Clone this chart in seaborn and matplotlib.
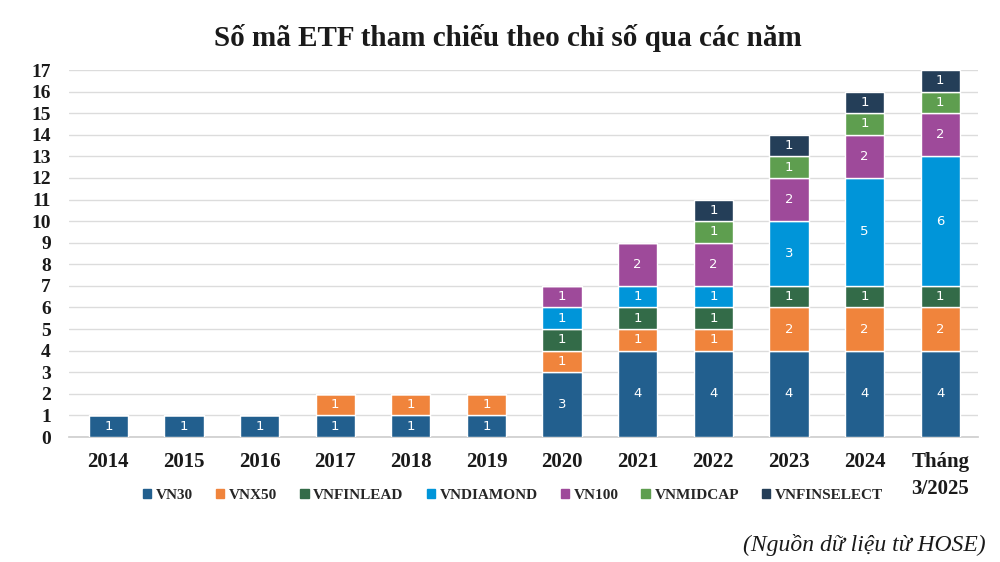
import numpy as np
import pandas as pd
import matplotlib
matplotlib.use("Agg")
import matplotlib.pyplot as plt
import seaborn as sns

years = ["2014", "2015", "2016", "2017", "2018", "2019", "2020",
         "2021", "2022", "2023", "2024", "Tháng\n3/2025"]
vn30 = [1, 1, 1, 1, 1, 1, 3, 4, 4, 4, 4, 4]
vnx50 = [0, 0, 0, 1, 1, 1, 1, 1, 1, 2, 2, 2]
vnfinlead = [0, 0, 0, 0, 0, 0, 1, 1, 1, 1, 1, 1]
vndiamond = [0, 0, 0, 0, 0, 0, 1, 1, 1, 3, 5, 6]
vn100 = [0, 0, 0, 0, 0, 0, 1, 2, 2, 2, 2, 2]
vnmidcap = [0, 0, 0, 0, 0, 0, 0, 0, 1, 1, 1, 1]
vnfinselect = [0, 0, 0, 0, 0, 0, 0, 0, 1, 1, 1, 1]

series = {
    "VN30": vn30,
    "VNX50": vnx50,
    "VNFINLEAD": vnfinlead,
    "VNDIAMOND": vndiamond,
    "VN100": vn100,
    "VNMIDCAP": vnmidcap,
    "VNFINSELECT": vnfinselect,
}
colors = {
    "VN30": "#225f8e",
    "VNX50": "#f0843c",
    "VNFINLEAD": "#336b48",
    "VNDIAMOND": "#0095d9",
    "VN100": "#9e4a9a",
    "VNMIDCAP": "#5e9e4f",
    "VNFINSELECT": "#243e58",
}

sns.set_theme(style="white")
plt.rcParams["font.family"] = ["Liberation Serif", "DejaVu Serif"]

fig = plt.figure(figsize=(10, 5.62), dpi=100)
ax = fig.add_axes([0.069, 0.2224, 0.909, 0.6530])

bottom = np.zeros(len(years))
for name, vals in series.items():
    df = pd.DataFrame({"year": years, "n": vals})
    sns.barplot(data=df, x="year", y="n", order=years, color=colors[name],
                bottom=bottom, width=0.52, saturation=1, ax=ax, zorder=3)
    cont = ax.containers[-1]
    labels = ["" if v == 0 else str(v) for v in vals]
    ax.bar_label(cont, labels=labels, label_type="center", color="white",
                 fontsize=9.5, family="DejaVu Sans")
    bottom = bottom + np.array(vals)

ax.set_ylim(0, 17)
ax.set_xlim(-0.52, 11.5)
ax.set_yticks(range(0, 18))
ax.yaxis.grid(True, color="#dcdcdc", linewidth=1, zorder=0)
ax.set_axisbelow(True)
for s in ["top", "right", "left"]:
    ax.spines[s].set_visible(False)
ax.spines["bottom"].set_color("#cfcfcf")
ax.set_xlabel("")
ax.set_ylabel("")
ax.tick_params(axis="y", length=0, pad=13, labelsize=14)
ax.tick_params(axis="x", length=0, pad=11, labelsize=15)
for t in ax.get_yticklabels() + ax.get_xticklabels():
    t.set_fontweight("bold")
    t.set_color("#1a1a1a")
for t in ax.get_xticklabels():
    t.set_verticalalignment("top")
    t.set_linespacing(1.45)

handles = [plt.Rectangle((0, 0), 1, 1, color=colors[n]) for n in series]
leg = fig.legend(handles, list(series.keys()), loc="center",
                 bbox_to_anchor=(0.513, 0.119), ncol=7, frameon=False,
                 handlelength=0.55, handleheight=0.55, handletextpad=0.3,
                 columnspacing=1.5, prop={"weight": "bold", "size": 11})

fig.text(0.508, 0.932, "Số mã ETF tham chiếu theo chỉ số qua các năm",
         ha="center", va="center", fontsize=21, fontweight="bold",
         color="#1a1a1a")
fig.text(0.986, 0.03, "(Nguồn dữ liệu từ HOSE)", ha="right", va="center",
         fontsize=17, style="italic", color="#1a1a1a")

fig.savefig("out.png", dpi=100)
